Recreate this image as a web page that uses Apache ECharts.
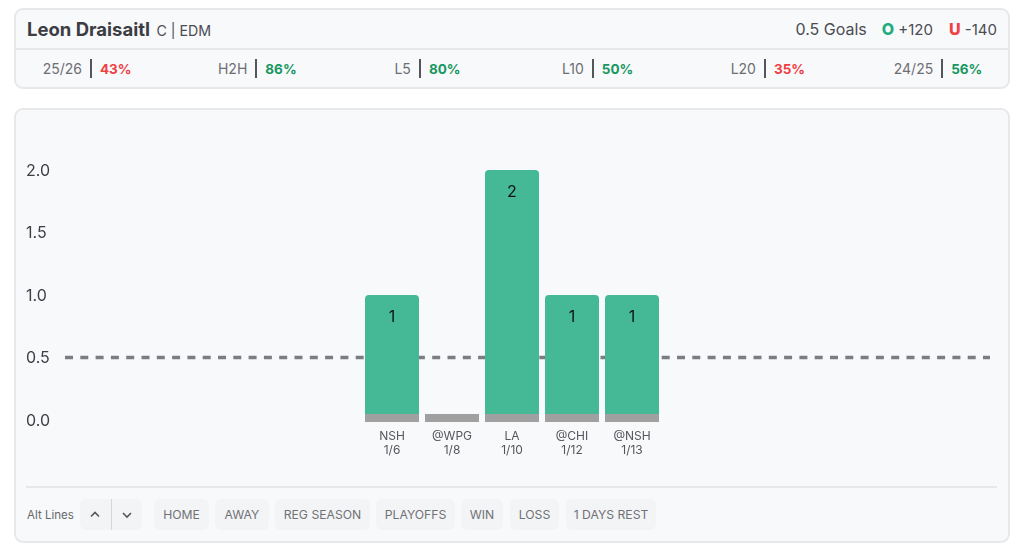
<!DOCTYPE html>
<html lang="en">
<head>
<meta charset="UTF-8">
<title>Leon Draisaitl 0.5 Goals</title>
<script src="https://cdn.jsdelivr.net/npm/echarts@6/dist/echarts.min.js"></script>
<style>
  html, body { margin: 0; padding: 0; background: #fff; width: 1024px; height: 560px; overflow: hidden; font-family: Inter, sans-serif; }
  .card { position: absolute; left: 14px; width: 992px; background: #f8f9fb; border: 2px solid #e7e8ea; border-radius: 9px; }
  #top { top: 8px; height: 77px; }
  #bottom { top: 108px; height: 431px; }
  #name { position: absolute; left: 11px; top: 7px; line-height: 24px; font-size: 18.5px; font-weight: 700; color: #3c3d42; white-space: nowrap; }
  #name span { font-size: 14.2px; font-weight: 400; color: #4b4c52; margin-left: 2px; }
  #odds { position: absolute; right: 11px; top: 7px; line-height: 24px; font-size: 15px; color: #4b4c52; white-space: nowrap; }
  #odds em { font-style: normal; font-size: 16px; }
  #odds b { font-weight: 800; font-size: 16px; margin-left: 16px; }
  #odds b.first { margin-left: 15px; }
  #rule { position: absolute; left: 0; right: 0; top: 38px; height: 2px; background: #e7e8ea; }
  #stats { position: absolute; left: -14px; top: 40px; height: 37px; display: flex; }
  .stat { width: 170.2px; display: flex; justify-content: center; align-items: center; font-size: 14px; color: #6d6e73; }
  .stat i { width: 2px; height: 19px; background: #55565b; margin: 0 8px 0 8px; }
  .stat b { font-weight: 700; font-size: 13.5px; }
  .over { color: #17975f; }
  .under { color: #ef4044; }
  #altRule { position: absolute; left: 26px; top: 486px; width: 971px; height: 2px; background: #e7e8ea; }
  #alt { position: absolute; left: 27px; top: 500px; line-height: 31px; font-size: 11.5px; color: #66676c; }
  .btn { position: absolute; top: 499px; height: 31px; line-height: 31px; text-align: center; background: #f3f4f5; border-radius: 6px; font-size: 12.2px; color: #707176; white-space: nowrap; }
  .chev { position: absolute; top: 499px; height: 31px; width: 31px; background: #f3f4f5; }
  #chart { position: absolute; left: 0; top: 0; width: 1024px; height: 560px; }
</style>
</head>
<body>
<div id="top" class="card">
  <div id="name">Leon Draisaitl <span>C | EDM</span></div>
  <div id="odds"><em>0.5 Goals</em><b class="first" style="color:#23ac7f">O</b> +120<b style="color:#ef4044">U</b> -140</div>
  <div id="rule"></div>
  <div id="stats"></div>
</div>
<div id="bottom" class="card"></div>
<div id="altRule"></div>
<div id="alt">Alt Lines</div>
<div class="chev" style="left:80px;border-radius:6px 0 0 6px;width:31px;border-right:1px solid #d6d7da">
  <svg width="31" height="31"><path d="M11 17.5l4-4 4 4" fill="none" stroke="#55565b" stroke-width="1.6"/></svg>
</div>
<div class="chev" style="left:112px;border-radius:0 6px 6px 0;width:30px">
  <svg width="30" height="31"><path d="M11 14l4 4 4-4" fill="none" stroke="#55565b" stroke-width="1.6"/></svg>
</div>
<div id="buttons"></div>
<div id="chart"></div>
<script>
  const opponents = ['NSH', '@WPG', 'LA', '@CHI', '@NSH'];
  const dates = ['1/6', '1/8', '1/10', '1/12', '1/13'];
  const goals = [1, 0, 2, 1, 1];
  const propLine = 0.5;
  const yTicks = [0, 0.5, 1, 1.5, 2];

  const statLabels = ['25/26', 'H2H', 'L5', 'L10', 'L20', '24/25'];
  const statValues = [43, 86, 80, 50, 35, 56];
  const buttonLabels = ['HOME', 'AWAY', 'REG SEASON', 'PLAYOFFS', 'WIN', 'LOSS', '1 DAYS REST'];
  const buttonLefts = [154, 215, 275, 376, 461, 510, 566];
  const buttonWidths = [55, 54, 95, 79, 42, 49, 90];

  // header strip, red under 50%
  document.getElementById('stats').innerHTML = statLabels.map((label, i) => {
    const cls = statValues[i] < 50 ? 'under' : 'over';
    return '<div class="stat">' + label + '<i></i><b class="' + cls + '">' + statValues[i] + '%</b></div>';
  }).join('');

  document.getElementById('buttons').innerHTML = buttonLabels.map((label, i) =>
    '<div class="btn" style="left:' + buttonLefts[i] + 'px;width:' + buttonWidths[i] + 'px">' + label + '</div>'
  ).join('');

  const myChart = echarts.init(document.getElementById('chart'), null, { renderer: 'canvas' });

  // gray foot of each bar sits around the zero line
  const footTop = 0.048;
  const footBottom = -0.016;

  myChart.setOption({
    animation: false,
    textStyle: { fontFamily: 'Inter' },
    grid: [
      { left: 65, width: 925, top: 170, height: 250 },
      { left: 362, width: 300, top: 170, height: 250 }
    ],
    xAxis: [
      { gridIndex: 0, type: 'value', min: 0, max: 1, show: false },
      {
        gridIndex: 1,
        type: 'category',
        data: opponents.map((team, i) => team + '\n' + dates[i]),
        axisLine: { show: false },
        axisTick: { show: false },
        axisLabel: { color: '#55565b', fontSize: 12, lineHeight: 14, margin: 9, interval: 0 }
      }
    ],
    yAxis: [
      {
        gridIndex: 0,
        type: 'value',
        min: yTicks[0],
        max: yTicks[yTicks.length - 1],
        interval: 0.5,
        splitLine: { show: false },
        axisLine: { show: false },
        axisTick: { show: false },
        axisLabel: {
          color: '#3f4046',
          fontSize: 16,
          align: 'left',
          verticalAlign: 'top',
          lineHeight: 2,
          margin: 39,
          formatter: v => v.toFixed(1)
        }
      },
      { gridIndex: 1, type: 'value', min: 0, max: 2, show: false }
    ],
    series: [
      {
        type: 'line',
        xAxisIndex: 0,
        yAxisIndex: 0,
        data: [[0, propLine], [1, propLine]],
        symbol: 'none',
        silent: true,
        lineStyle: { color: '#7c7d82', width: 3.5, type: [8, 7.3] },
        z: 1
      },
      {
        type: 'bar',
        xAxisIndex: 1,
        yAxisIndex: 1,
        data: goals,
        barWidth: 54,
        itemStyle: { color: '#45b996', borderRadius: [4, 4, 0, 0] },
        label: {
          show: true,
          position: 'insideTop',
          distance: 14,
          color: '#111',
          fontSize: 16,
          formatter: p => (p.value > 0 ? p.value : '')
        },
        z: 2
      },
      {
        type: 'custom',
        xAxisIndex: 1,
        yAxisIndex: 1,
        data: goals.map((g, i) => i),
        clip: false,
        renderItem: (params, api) => {
          const i = api.value(0);
          const top = api.coord([i, footTop]);
          const bottom = api.coord([i, footBottom]);
          return {
            type: 'rect',
            shape: { x: top[0] - 27, y: top[1], width: 54, height: bottom[1] - top[1] },
            style: { fill: '#a0a0a0' }
          };
        },
        encode: { x: 0 },
        z: 3
      }
    ]
  });
</script>
</body>
</html>
